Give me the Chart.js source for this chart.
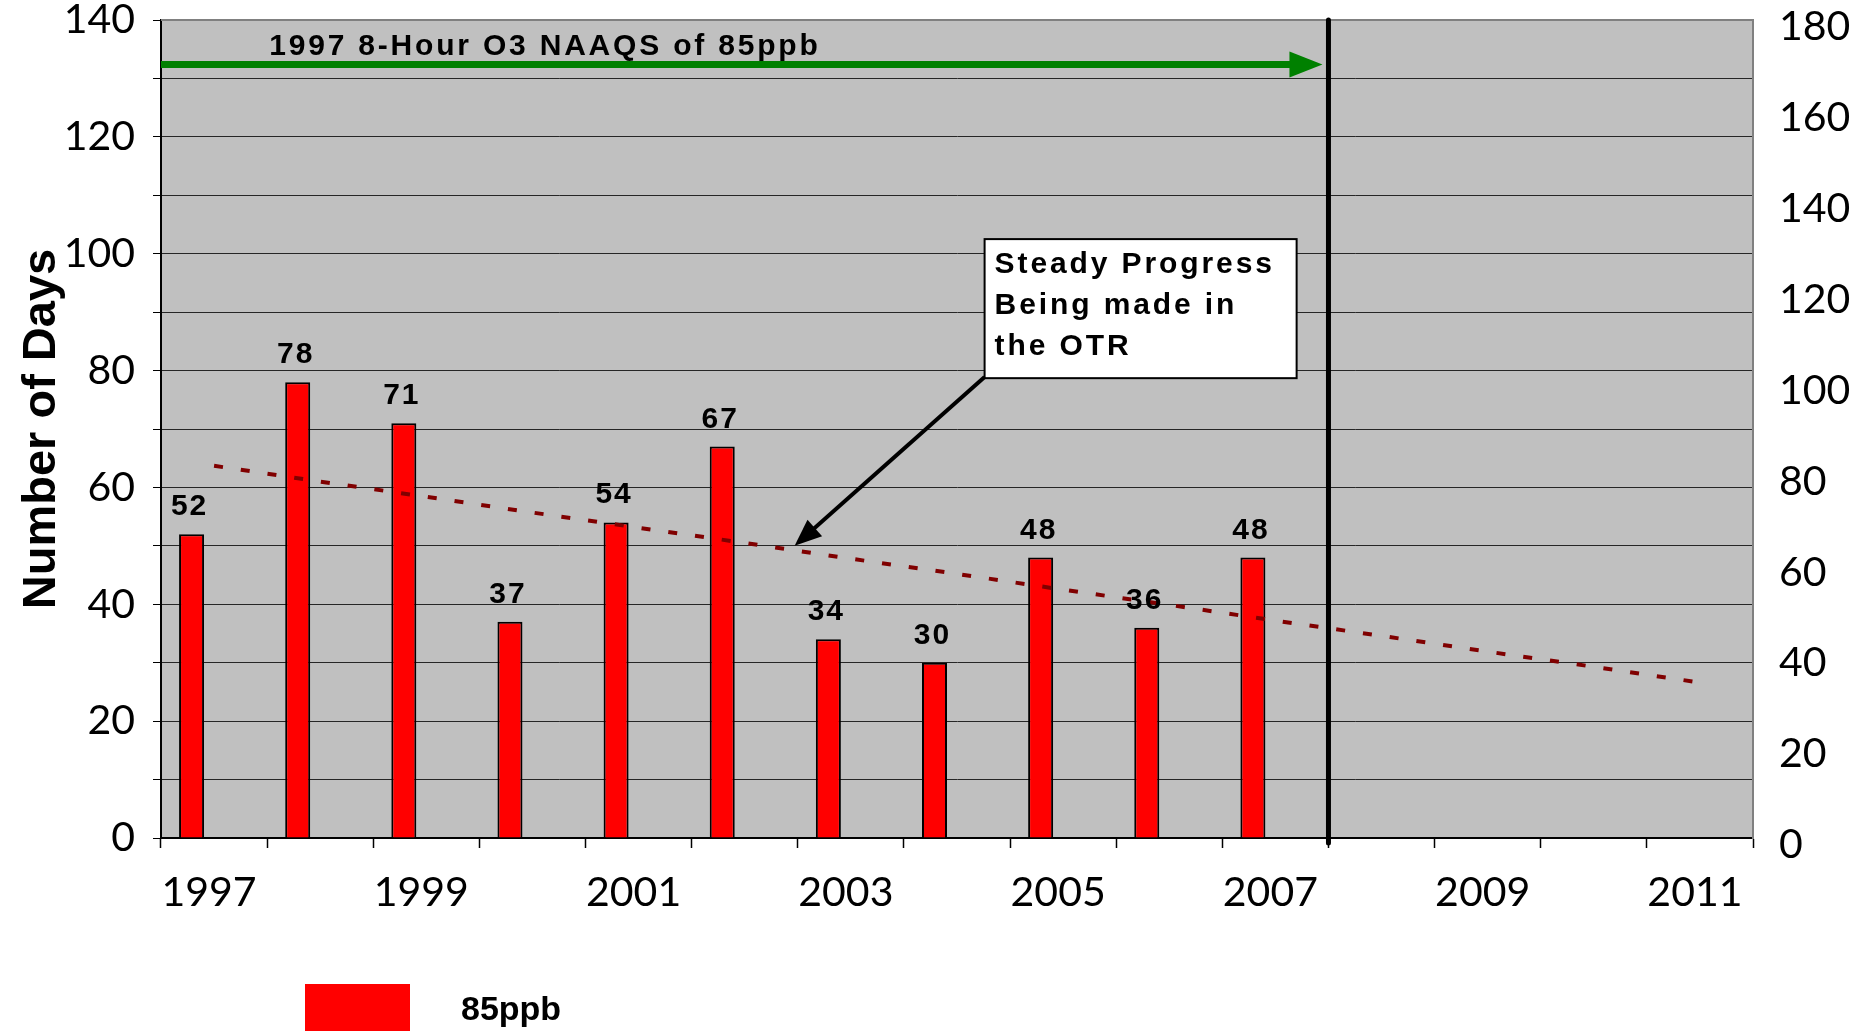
<!DOCTYPE html>
<html lang="en">
<head>
<meta charset="UTF-8">
<title>Number of Days</title>
<style>
  html, body { margin: 0; padding: 0; background: #fff; }
  canvas { display: block; }
</style>
</head>
<body>
<canvas id="chart" width="1872" height="1031"></canvas>

<script src="https://cdn.jsdelivr.net/npm/chart.js"></script>
<script>
    // data
    const years = ['1997', '1998', '1999', '2000', '2001', '2002', '2003', '2004',
                   '2005', '2006', '2007', '2008', '2009', '2010', '2011'];
    const days85 = [52, 78, 71, 37, 54, 67, 34, 30, 48, 36, 48, null, null, null, null];
    const trendDays = [63.7, 61.0, 58.4, 55.7, 53.1, 50.5, 47.8, 45.2, 42.5, 39.9, 37.2, 34.6, 31.9, 29.3, 26.6];
    const spacer = years.map(() => null); // empty second slot, as in the original
    const leftMax = 140;
    const rightMax = 180;

    const tickFont = { family: 'Lato', size: 41 };
    const boldFace = 'Liberation Sans, Arial, sans-serif';

    // grey plot area + grey top border
    const plotArea = {
        id: 'plotArea',
        beforeDraw(chart) {
            const { ctx, chartArea: a } = chart;
            ctx.save();
            ctx.fillStyle = '#c0c0c0';
            ctx.fillRect(a.left, a.top, a.right - a.left, a.bottom - a.top);
            ctx.restore();
        },
        beforeDatasetsDraw(chart) {
            const { ctx, chartArea: a } = chart;
            ctx.save();
            ctx.strokeStyle = '#808080';
            ctx.lineWidth = 2;
            ctx.beginPath();
            ctx.moveTo(a.left, a.top);
            ctx.lineTo(a.right, a.top);
            ctx.stroke();
            ctx.restore();
        }
    };

    // standard line, green arrow, callout box
    const notes = {
        id: 'notes',
        afterDatasetsDraw(chart) {
            const { ctx, chartArea: a } = chart;
            const xs = chart.scales.x;
            const ys = chart.scales.y;
            const cw = xs.getPixelForValue(1) - xs.getPixelForValue(0);
            const xAt = v => xs.getPixelForValue(0) + v * cw;

            ctx.save();

            // vertical line after 2007
            const vx = xAt(10.5);
            ctx.strokeStyle = '#000';
            ctx.lineWidth = 5;
            ctx.lineCap = 'round';
            ctx.beginPath();
            ctx.moveTo(vx, a.top);
            ctx.lineTo(vx, a.bottom + 5);
            ctx.stroke();

            // green arrow
            const gy = ys.getPixelForValue(132.4);
            const tip = vx - 6;
            ctx.strokeStyle = '#008000';
            ctx.fillStyle = '#008000';
            ctx.lineWidth = 7;
            ctx.lineCap = 'butt';
            ctx.beginPath();
            ctx.moveTo(a.left, gy);
            ctx.lineTo(tip - 30, gy);
            ctx.stroke();
            ctx.beginPath();
            ctx.moveTo(tip, gy);
            ctx.lineTo(tip - 33, gy - 13);
            ctx.lineTo(tip - 33, gy + 13);
            ctx.closePath();
            ctx.fill();

            ctx.fillStyle = '#000';
            ctx.font = 'bold 30px ' + boldFace;
            ctx.letterSpacing = '2.8px';
            ctx.textAlign = 'left';
            ctx.textBaseline = 'alphabetic';
            ctx.fillText('1997 8-Hour O3 NAAQS of 85ppb', xAt(0.52), ys.getPixelForValue(134.0));

            // callout box
            const bx0 = xAt(7.26), bx1 = xAt(10.2);
            const by0 = ys.getPixelForValue(102.5), by1 = ys.getPixelForValue(78.7);
            ctx.fillStyle = '#fff';
            ctx.fillRect(bx0, by0, bx1 - bx0, by1 - by0);
            ctx.strokeStyle = '#000';
            ctx.lineWidth = 2;
            ctx.strokeRect(bx0, by0, bx1 - bx0, by1 - by0);

            ctx.fillStyle = '#000';
            ctx.font = 'bold 30px ' + boldFace;
            ctx.letterSpacing = '2.9px';
            ['Steady Progress', 'Being made in', 'the OTR'].forEach((t, i) => {
                ctx.fillText(t, bx0 + 10, by0 + 34 + i * 41);
            });
            ctx.letterSpacing = '0px';

            // black arrow to trend line
            const sx = bx0, sy = ys.getPixelForValue(78.9);
            const tx = xAt(5.47), ty = ys.getPixelForValue(50);
            const ang = Math.atan2(ty - sy, tx - sx);
            const hl = 27, hw = 11;
            ctx.lineWidth = 4;
            ctx.beginPath();
            ctx.moveTo(sx, sy);
            ctx.lineTo(tx - Math.cos(ang) * (hl - 4), ty - Math.sin(ang) * (hl - 4));
            ctx.stroke();
            ctx.beginPath();
            ctx.moveTo(tx, ty);
            ctx.lineTo(tx - Math.cos(ang) * hl - Math.sin(ang) * hw, ty - Math.sin(ang) * hl + Math.cos(ang) * hw);
            ctx.lineTo(tx - Math.cos(ang) * hl + Math.sin(ang) * hw, ty - Math.sin(ang) * hl - Math.cos(ang) * hw);
            ctx.closePath();
            ctx.fill();

            ctx.restore();
        }
    };

    // value labels above the bars
    const barLabels = {
        id: 'barLabels',
        afterDatasetsDraw(chart) {
            const { ctx } = chart;
            const meta = chart.getDatasetMeta(1);
            const data = chart.data.datasets[1].data;
            ctx.save();
            ctx.fillStyle = '#000';
            ctx.font = 'bold 30px ' + boldFace;
            ctx.letterSpacing = '2px';
            ctx.textAlign = 'center';
            ctx.textBaseline = 'alphabetic';
            meta.data.forEach((bar, i) => {
                if (data[i] == null) return;
                ctx.fillText(String(data[i]), bar.x - 2, bar.y - 19);
            });
            ctx.restore();
        }
    };

    // legend (cut off at the bottom edge in the original)
    const legendBox = {
        id: 'legendBox',
        afterDraw(chart) {
            const { ctx } = chart;
            const ds = chart.data.datasets[1];
            ctx.save();
            ctx.fillStyle = ds.backgroundColor;
            ctx.fillRect(305, 984, 105, 60);
            ctx.fillStyle = '#000';
            ctx.font = 'bold 34px ' + boldFace;
            ctx.textAlign = 'left';
            ctx.textBaseline = 'middle';
            ctx.fillText(ds.label, 461, 1011);
            ctx.restore();
        }
    };

    new Chart(document.getElementById('chart'), {
        type: 'bar',
        data: {
            labels: years,
            datasets: [{
                type: 'line',
                label: 'Trend',
                data: trendDays,
                yAxisID: 'y',
                borderColor: '#800000',
                borderWidth: 4,
                borderDash: [9, 18],
                pointRadius: 0,
                fill: false,
                order: 0
            }, {
                label: '85ppb',
                data: days85,
                yAxisID: 'y',
                backgroundColor: '#ff0000',
                borderColor: '#000',
                borderWidth: 2,
                categoryPercentage: 0.848,
                barPercentage: 0.556,
                order: 1
            }, {
                label: '',
                data: spacer,
                yAxisID: 'y',
                backgroundColor: 'rgba(0,0,0,0)',
                borderWidth: 0,
                categoryPercentage: 0.848,
                barPercentage: 0.556,
                order: 2
            }]
        },
        options: {
            responsive: false,
            animation: false,
            layout: { padding: { top: 20, left: 0, right: 0, bottom: 0 } },
            plugins: {
                legend: { display: false },
                tooltip: { enabled: false }
            },
            scales: {
                x: {
                    type: 'category',
                    offset: true,
                    grid: {
                        offset: true,
                        drawOnChartArea: false,
                        drawTicks: true,
                        tickLength: 10,
                        tickColor: '#000',
                        tickWidth: 1.5
                    },
                    border: { color: '#000', width: 2 },
                    ticks: {
                        autoSkip: false,
                        maxRotation: 0,
                        padding: 20,
                        labelOffset: -5,
                        color: '#000',
                        font: tickFont,
                        callback: (v, i) => (i % 2 === 0 ? years[i] : '')
                    },
                    afterFit: s => {
                        s.height = 193;
                        s.paddingLeft = 0;
                        s.paddingRight = 0;
                    }
                },
                y: {
                    position: 'left',
                    min: 0,
                    max: leftMax,
                    grid: {
                        color: '#262626',
                        lineWidth: 1,
                        tickColor: '#000',
                        tickLength: 8
                    },
                    border: { color: '#000', width: 2 },
                    ticks: {
                        stepSize: 10,
                        padding: 18,
                        color: '#000',
                        font: tickFont,
                        callback: v => (v % 20 === 0 ? v : '')
                    },
                    title: {
                        display: true,
                        text: 'Number of Days',
                        color: '#000',
                        font: { family: boldFace, size: 47, weight: 'bold' },
                        padding: { top: 14, bottom: 0 }
                    },
                    afterFit: s => {
                        s.width = 161;
                        s.paddingTop = 0;
                        s.paddingBottom = 0;
                    }
                },
                y2: {
                    position: 'right',
                    min: 0,
                    max: rightMax,
                    grid: { drawOnChartArea: false, drawTicks: false },
                    border: { color: '#808080', width: 2 },
                    ticks: {
                        stepSize: 20,
                        padding: 26,
                        labelOffset: 7,
                        color: '#000',
                        font: tickFont
                    },
                    afterFit: s => {
                        s.width = 119;
                        s.paddingTop = 0;
                        s.paddingBottom = 0;
                    }
                }
            }
        },
        plugins: [plotArea, notes, barLabels, legendBox]
    });
</script>
</body>
</html>
